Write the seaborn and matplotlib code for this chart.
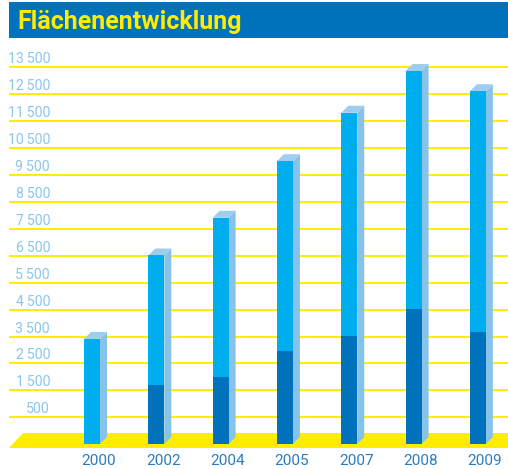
import matplotlib
matplotlib.use('Agg')
import pandas as pd
import seaborn as sns
import matplotlib.pyplot as plt
from matplotlib.patches import Polygon, Rectangle
from matplotlib.transforms import ScaledTranslation, IdentityTransform, blended_transform_factory

# --- Daten ---
jahre = ['2000', '2002', '2004', '2005', '2007', '2008', '2009']
flaeche_gesamt = [3900, 7000, 8400, 10500, 12300, 13850, 13100]
flaeche_unten = [0, 2200, 2500, 3450, 4000, 5000, 4150]
y_ticks = [500, 1500, 2500, 3500, 4500, 5500, 6500, 7500, 8500, 9500, 10500, 11500, 12500, 13500]
y_labels = [f"{v:,}".replace(',', '\u2009') for v in y_ticks]

df = pd.DataFrame({'jahr': jahre, 'gesamt': flaeche_gesamt, 'unten': flaeche_unten})

# --- Farben ---
blau_hell = '#00aeef'
blau_dunkel = '#0072bb'
seite = '#86c2ea'
deckel = '#9fcdef'
gelb = '#ffed00'
titel_blau = '#0071bb'
label_hell = '#8cc6ec'
label_jahr = '#2a7dc0'

sns.set_theme(style='white')
plt.rcParams['font.family'] = ['Roboto', 'DejaVu Sans']

W, H, DPI = 508, 469, 100
fig = plt.figure(figsize=(W / DPI, H / DPI), dpi=DPI)
ax = fig.add_axes([9 / W, (H - 450) / H, 499 / W, (450 - 40) / H])

breite = 0.249
sns.barplot(data=df, x='jahr', y='gesamt', color=blau_hell, saturation=1,
            width=breite, errorbar=None, linewidth=0, ax=ax, zorder=3)
sns.barplot(data=df, x='jahr', y='unten', color=blau_dunkel, saturation=1,
            width=breite, errorbar=None, linewidth=0, ax=ax, zorder=4)

ax.set_xlim(-1.40, 6.36)
ax.set_ylim(-713, 14512)

# Vorderseite nach vorne-unten versetzen (3D-Effekt)
versatz = ax.transData + ScaledTranslation(-7 / DPI, -13.2 / DPI, fig.dpi_scale_trans)
for p in ax.patches:
    p.set_transform(versatz)

# Tiefe in Dateneinheiten (7 px)
px_x = 499 / (6.36 + 1.40)
px_y = 410 / (14512 + 713)
dx, dy = 7 / px_x, 7 / px_y

for i, v in enumerate(flaeche_gesamt):
    xl, xr = i - breite / 2, i + breite / 2
    ax.add_patch(Polygon([(xr, 0), (xr, v), (xr + dx, v + dy), (xr + dx, dy)],
                         closed=True, facecolor=seite, edgecolor='none',
                         transform=versatz, zorder=2))
    ax.add_patch(Polygon([(xl, v), (xr, v), (xr + dx, v + dy), (xl + dx, v + dy)],
                         closed=True, facecolor=deckel, edgecolor='none',
                         transform=versatz, zorder=2))

# Boden (gelb)
boden = Polygon([(23, H - 433), (W + 20, H - 433), (494 + 20, H - 448), (9, H - 448)],
                closed=True, facecolor=gelb, edgecolor='none',
                transform=IdentityTransform(), zorder=1)
ax.add_patch(boden)

# Gitterlinien + Beschriftung
for v, lab in zip(y_ticks, y_labels):
    ax.axhline(v, color=gelb, lw=1.4, zorder=0)
    tr = blended_transform_factory(ax.transAxes, ax.transData) + \
        ScaledTranslation(0, 4 / DPI, fig.dpi_scale_trans)
    ax.text((50 - 9) / 499, v, lab, transform=tr, ha='right', va='baseline',
            fontsize=10.2, color=label_hell)

ax.set_yticks([])
ax.set_xticks(range(len(jahre)))
ax.set_xticklabels(jahre, color=label_jahr, fontsize=11)
ax.tick_params(axis='x', length=0, pad=3)
ax.set_xlabel('')
ax.set_ylabel('')
for s in ax.spines.values():
    s.set_visible(False)

# Titelbalken
fig.add_artist(Rectangle((9 / W, (H - 38) / H), 499 / W, 36 / H,
                         transform=fig.transFigure, facecolor=titel_blau,
                         edgecolor='none'))
fig.text(17 / W, (H - 28.5) / H, 'Flächenentwicklung', color=gelb,
         fontsize=18, fontweight='bold', ha='left', va='baseline')

fig.savefig('out.png', dpi=DPI)
